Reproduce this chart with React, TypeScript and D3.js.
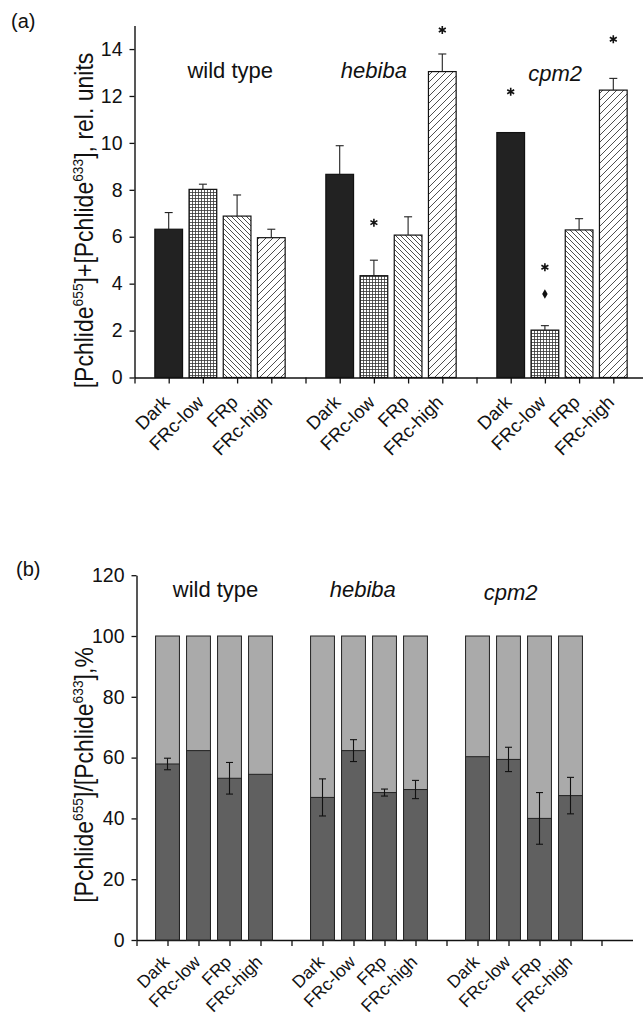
import React, { useEffect, useRef } from 'react'
import * as d3 from 'd3'

const groups = ['wild type', 'hebiba', 'cpm2']
const treatments = ['Dark', 'FRc-low', 'FRp', 'FRc-high']

// panel (a): Pchlide655 + Pchlide633, rel. units
const totalMean = [6.32, 8.02, 6.88, 5.96, 8.66, 4.34, 6.07, 13.04, 10.44, 2.02, 6.29, 12.25]
const totalErr = [0.71, 0.22, 0.9, 0.36, 1.22, 0.66, 0.78, 0.75, 0, 0.19, 0.48, 0.5]
const starBars = [5, 7, 8, 9, 11]
const starLevels = [6.6, 14.81, 12.18, 4.7, 14.42]
const diamondBars = [9]
const diamondLevels = [3.56]

// panel (b): Pchlide655 / Pchlide633, %
const ratioMean = [57.9, 62.3, 53.2, 54.5, 46.9, 62.3, 48.5, 49.5, 60.3, 59.4, 40.0, 47.5]
const ratioErr = [1.9, 0, 5.2, 0, 6.1, 3.6, 1.15, 3.0, 0, 4.0, 8.5, 6.0]

const titlePosA = [2.8, 7.0, 12.3]
const titlePosB = [2.55, 7.3, 12.07]

const font = '"Liberation Sans", Arial, Helvetica, sans-serif'
const fills = ['#222', 'url(#grid)', 'url(#back)', 'url(#fwd)']

const barPos = (i: number) => Math.floor(i / 4) * 5 + (i % 4) + 1

function App() {
    const svgRef = useRef<SVGSVGElement>(null)
    const width = 643
    const height = 1020

    useEffect(() => {
        const svg = d3.select(svgRef.current)
        svg.selectAll('g.chart').remove()
        const root = svg.append('g').attr('class', 'chart').style('font-family', font).attr('fill', '#111')

        const bars = d3.range(totalMean.length)

        // ---------- panel (a)
        const xA = d3.scaleLinear().domain([0, 15]).range([134.5, 647.5])
        const yA = d3.scaleLinear().domain([0, 15]).range([377.5, 25.6])
        const bwA = xA(0.81) - xA(0)

        const gA = root.append('g')
        gA.append('g')
            .attr('transform', `translate(0, ${yA(0)})`)
            .call(d3.axisBottom(xA).tickValues(d3.range(0, 15)).tickSize(6).tickSizeOuter(0).tickFormat(() => ''))
        gA.append('g')
            .attr('transform', `translate(${xA(0)}, 0)`)
            .call(d3.axisLeft(yA).tickValues(d3.range(0, 15, 2)).tickSize(5).tickSizeOuter(0).tickPadding(7))

        gA.selectAll('rect.bar')
            .data(bars)
            .join('rect')
            .attr('class', 'bar')
            .attr('x', i => xA(barPos(i)) - bwA / 2)
            .attr('width', bwA)
            .attr('y', i => yA(totalMean[i]))
            .attr('height', i => yA(0) - yA(totalMean[i]))
            .attr('fill', i => fills[i % 4])
            .attr('stroke', '#111')
            .attr('stroke-width', 1.2)

        const errA = gA.append('g').attr('stroke', '#222').attr('stroke-width', 1.1)
        bars.filter(i => totalErr[i] > 0).forEach(i => {
            const cx = xA(barPos(i))
            errA.append('line')
                .attr('x1', cx).attr('x2', cx)
                .attr('y1', yA(totalMean[i])).attr('y2', yA(totalMean[i] + totalErr[i]))
            errA.append('line')
                .attr('x1', cx - 4).attr('x2', cx + 4)
                .attr('y1', yA(totalMean[i] + totalErr[i])).attr('y2', yA(totalMean[i] + totalErr[i]))
        })

        starBars.forEach((b, k) => {
            gA.append('path')
                .attr('d', d3.symbol(d3.symbolAsterisk, 45)())
                .attr('transform', `translate(${xA(barPos(b))}, ${yA(starLevels[k])})`)
                .attr('stroke', '#111')
                .attr('stroke-width', 1.6)
                .attr('fill', 'none')
        })
        diamondBars.forEach((b, k) => {
            gA.append('path')
                .attr('d', d3.symbol(d3.symbolDiamond, 26)())
                .attr('transform', `translate(${xA(barPos(b))}, ${yA(diamondLevels[k])})`)
                .attr('fill', '#111')
        })

        gA.selectAll('text.title')
            .data(groups)
            .join('text')
            .attr('class', 'title')
            .attr('x', (d, i) => xA(titlePosA[i]))
            .attr('y', (d, i) => (i === 2 ? 81 : 78))
            .attr('text-anchor', 'middle')
            .style('font-size', '22px')
            .style('font-style', (d, i) => (i === 0 ? 'normal' : 'italic'))
            .text(d => d)

        gA.selectAll('text.xlab')
            .data(bars)
            .join('text')
            .attr('class', 'xlab')
            .attr('transform', i => `translate(${xA(barPos(i)) + 2}, ${yA(0) + 26}) rotate(-45)`)
            .attr('text-anchor', 'end')
            .style('font-size', '18.5px')
            .text(i => treatments[i % 4])

        const labA = gA.append('text')
            .attr('transform', `translate(93, 220.5) rotate(-90) scale(0.92, 1)`)
            .attr('text-anchor', 'middle')
            .style('font-size', '25px')
        labA.append('tspan').text('[Pchlide')
        labA.append('tspan').attr('dy', -10).style('font-size', '15px').text('655')
        labA.append('tspan').attr('dy', 10).text(']+[Pchlide')
        labA.append('tspan').attr('dy', -10).style('font-size', '15px').text('633')
        labA.append('tspan').attr('dy', 10).text('], rel. units')

        gA.append('text').attr('x', 11).attr('y', 28).style('font-size', '20px').text('(a)')

        // ---------- panel (b)
        const xB = d3.scaleLinear().domain([0, 16]).range([136.5, 632.5])
        const yB = d3.scaleLinear().domain([0, 120]).range([940, 575.2])
        const bwB = xB(0.77) - xB(0)

        const gB = root.append('g')
        gB.append('g')
            .attr('transform', `translate(0, ${yB(0)})`)
            .call(d3.axisBottom(xB).tickValues(d3.range(0, 16)).tickSize(6).tickSizeOuter(0).tickFormat(() => ''))
        gB.append('g')
            .attr('transform', `translate(${xB(0)}, 0)`)
            .call(d3.axisLeft(yB).tickValues(d3.range(0, 121, 20)).tickSize(5).tickSizeOuter(0).tickPadding(7))

        gB.selectAll('rect.back')
            .data(bars)
            .join('rect')
            .attr('class', 'back')
            .attr('x', i => xB(barPos(i)) - bwB / 2)
            .attr('width', bwB)
            .attr('y', yB(100))
            .attr('height', yB(0) - yB(100))
            .attr('fill', '#aaaaaa')
            .attr('stroke', '#222')
            .attr('stroke-width', 1)
        gB.selectAll('rect.front')
            .data(bars)
            .join('rect')
            .attr('class', 'front')
            .attr('x', i => xB(barPos(i)) - bwB / 2)
            .attr('width', bwB)
            .attr('y', i => yB(ratioMean[i]))
            .attr('height', i => yB(0) - yB(ratioMean[i]))
            .attr('fill', '#606060')
            .attr('stroke', '#222')
            .attr('stroke-width', 1)

        const errB = gB.append('g').attr('stroke', '#111').attr('stroke-width', 1.1)
        bars.filter(i => ratioErr[i] > 0).forEach(i => {
            const cx = xB(barPos(i))
            const lo = yB(ratioMean[i] - ratioErr[i])
            const hi = yB(ratioMean[i] + ratioErr[i])
            errB.append('line').attr('x1', cx).attr('x2', cx).attr('y1', lo).attr('y2', hi)
            errB.append('line').attr('x1', cx - 3.5).attr('x2', cx + 3.5).attr('y1', lo).attr('y2', lo)
            errB.append('line').attr('x1', cx - 3.5).attr('x2', cx + 3.5).attr('y1', hi).attr('y2', hi)
        })

        gB.selectAll('text.title')
            .data(groups)
            .join('text')
            .attr('class', 'title')
            .attr('x', (d, i) => xB(titlePosB[i]))
            .attr('y', (d, i) => (i === 2 ? 600 : 597))
            .attr('text-anchor', 'middle')
            .style('font-size', '22px')
            .style('font-style', (d, i) => (i === 0 ? 'normal' : 'italic'))
            .text(d => d)

        gB.selectAll('text.xlab')
            .data(bars)
            .join('text')
            .attr('class', 'xlab')
            .attr('transform', i => `translate(${xB(barPos(i)) + 3}, ${yB(0) + 23}) rotate(-45)`)
            .attr('text-anchor', 'end')
            .style('font-size', '17.5px')
            .text(i => treatments[i % 4])

        const labB = gB.append('text')
            .attr('transform', `translate(93, 775) rotate(-90) scale(0.92, 1)`)
            .attr('text-anchor', 'middle')
            .style('font-size', '25px')
        labB.append('tspan').text('[Pchlide')
        labB.append('tspan').attr('dy', -10).style('font-size', '15px').text('655')
        labB.append('tspan').attr('dy', 10).text(']/[Pchlide')
        labB.append('tspan').attr('dy', -10).style('font-size', '15px').text('633')
        labB.append('tspan').attr('dy', 10).text('],%')

        gB.append('text').attr('x', 16).attr('y', 576).style('font-size', '20px').text('(b)')

        // axis styling
        root.selectAll('.domain').attr('stroke', '#111').attr('stroke-width', 1.4)
        root.selectAll('.tick line').attr('stroke', '#111').attr('stroke-width', 1.3)
        root.selectAll('.tick text').style('font-size', '19.5px').style('font-family', font).attr('fill', '#111')
    }, [])

    return (
        <div style={{ position: 'absolute', left: 0, top: 0, background: '#fff' }}>
            <svg ref={svgRef} width={width} height={height}>
                <defs>
                    <pattern id="grid" width={3} height={3} patternUnits="userSpaceOnUse">
                        <rect width={3} height={3} fill="#fff" />
                        <path d="M0,0.5 H3 M0.5,0 V3" stroke="#333" strokeWidth={0.8} />
                    </pattern>
                    <pattern id="back" width={5} height={5} patternUnits="userSpaceOnUse">
                        <rect width={5} height={5} fill="#fff" />
                        <path d="M-1,-1 L6,6 M-1,4 L1,6 M4,-1 L6,1" stroke="#222" strokeWidth={0.8} />
                    </pattern>
                    <pattern id="fwd" width={7} height={7} patternUnits="userSpaceOnUse">
                        <rect width={7} height={7} fill="#fff" />
                        <path d="M-1,8 L8,-1 M-1,1 L1,-1 M6,8 L8,6" stroke="#222" strokeWidth={0.8} />
                    </pattern>
                </defs>
            </svg>
        </div>
    )
}

export default App
